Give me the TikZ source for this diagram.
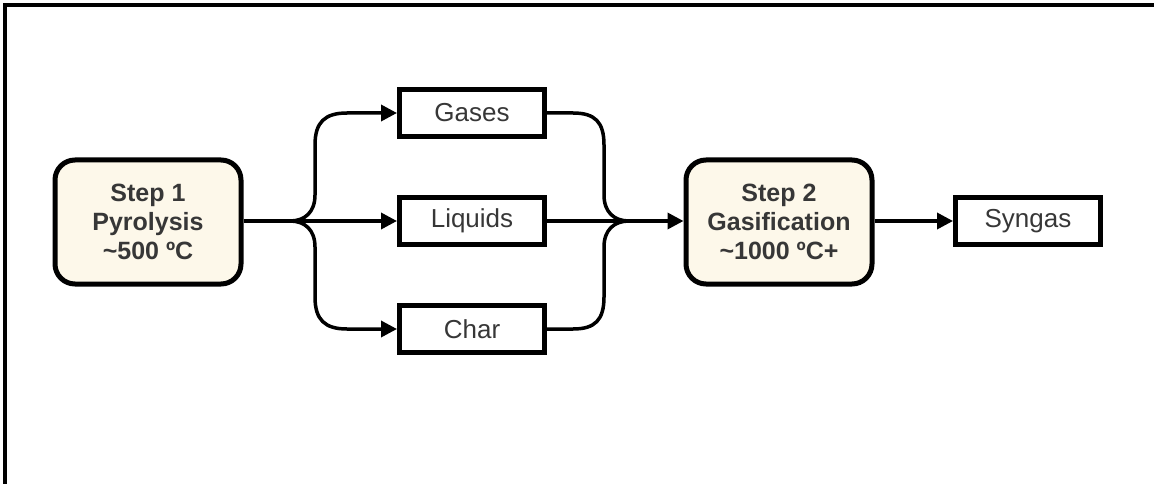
\documentclass[tikz,border=0pt]{standalone}
\usepackage{fontspec}
\setmainfont{Liberation Sans}
\usetikzlibrary{arrows.meta}
\definecolor{cream}{RGB}{253,248,234}
\definecolor{txt}{RGB}{55,55,55}
\tikzset{
  stepbox/.style={draw=black, fill=cream, line width=5pt, rounded corners=20pt,
    minimum width=186pt, minimum height=124pt, align=center, text=txt,
    font=\fontsize{25}{29}\selectfont\bfseries, inner sep=0pt},
  prodbox/.style={draw=black, fill=white, line width=5pt,
    minimum width=145pt, minimum height=47pt, text=txt,
    font=\fontsize{26}{30}\selectfont, inner sep=0pt},
  conn/.style={line width=3.5pt, draw=black},
  arr/.style={conn, -{Triangle[length=16pt,width=16pt]}},
}
\begin{document}
\begin{tikzpicture}[x=1pt,y=1pt]
\useasboundingbox (0,0) rectangle (1154,-484);
\fill[white] (0,0) rectangle (1154,-484);
\draw[line width=4pt, line join=miter] (5.3,-484) -- (5.3,-4.7) -- (1154,-4.7);

\node[stepbox] (s1) at (148,-222) {Step 1\\Pyrolysis\\\textasciitilde500 ºC};
\node[prodbox] (gases) at (472,-113) {Gases};
\node[prodbox] (liquids) at (472,-221) {Liquids};
\node[prodbox] (char) at (472,-329) {Char};
\node[stepbox] (s2) at (779,-222) {Step 2\\Gasification\\\textasciitilde1000 ºC+};
\node[prodbox] (syngas) at (1028,-221) {Syngas};

\coordinate (fL) at (290,-221);
\coordinate (fR) at (629,-221);

\draw[conn] (s1.east |- fL) -- (fL);
\draw[arr] (fL) -- (liquids.west);
\draw[arr] (fL) .. controls (305,-221) and (315,-212) .. (315,-195) -- (315,-145)
  .. controls (315,-122) and (325,-113) .. (347,-113) -- (gases.west);
\draw[arr] (fL) .. controls (305,-221) and (315,-230) .. (315,-247) -- (315,-297)
  .. controls (315,-320) and (325,-329) .. (347,-329) -- (char.west);

\draw[conn] (gases.east) -- (573,-113) .. controls (595,-113) and (604,-122) .. (604,-145)
  -- (604,-195) .. controls (604,-212) and (614,-221) .. (fR);
\draw[conn] (char.east) -- (573,-329) .. controls (595,-329) and (604,-320) .. (604,-297)
  -- (604,-247) .. controls (604,-230) and (614,-221) .. (fR);
\draw[conn] (liquids.east) -- (fR);
\draw[arr] (fR) -- (s2.west |- fR);
\draw[arr] (s2.east |- syngas) -- (syngas.west);
\end{tikzpicture}
\end{document}
